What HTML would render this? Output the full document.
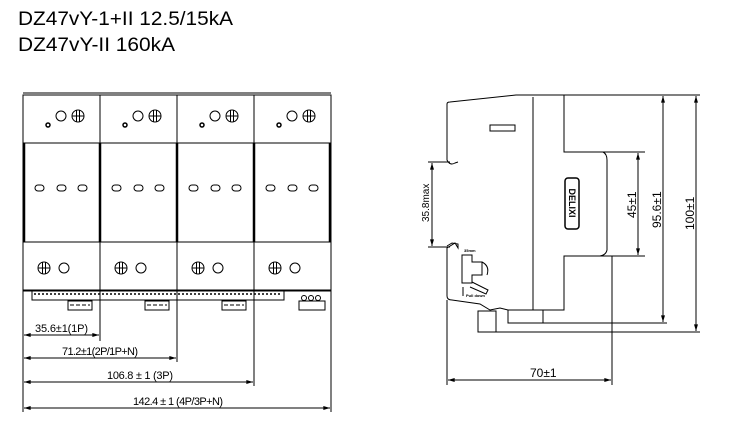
<!DOCTYPE html>
<html><head><meta charset="utf-8"><style>
html,body{margin:0;padding:0;background:#fff;}
svg{display:block;}
text{font-family:"Liberation Sans",sans-serif;}
</style></head><body>
<svg width="742" height="438" viewBox="0 0 742 438" xmlns="http://www.w3.org/2000/svg">
<defs>
<g id="mod" stroke="#000" fill="none" stroke-width="1">
  <circle cx="25" cy="33" r="2" stroke-width="1.5"/>
  <circle cx="38" cy="24" r="5"/>
  <circle cx="55" cy="24" r="6"/>
  <line x1="49" y1="24" x2="61" y2="24"/><line x1="53.5" y1="18" x2="53.5" y2="30"/><line x1="56.5" y1="18" x2="56.5" y2="30"/>
  <rect x="12" y="93" width="9" height="6" rx="3"/>
  <rect x="34" y="93" width="9" height="6" rx="3"/>
  <rect x="55" y="93" width="9" height="6" rx="3"/>
  <circle cx="21" cy="176" r="6"/>
  <line x1="15" y1="176" x2="27" y2="176"/><line x1="19.5" y1="170" x2="19.5" y2="182"/><line x1="22.5" y1="170" x2="22.5" y2="182"/>
  <circle cx="41" cy="176" r="5"/>
</g>
<marker id="a" viewBox="0 0 10 6" refX="10" refY="3" markerWidth="8" markerHeight="4" orient="auto-start-reverse"><path d="M0,0L10,3L0,6z" fill="#000"/></marker>
</defs>
<text x="18" y="25" font-size="19.5" textLength="215" lengthAdjust="spacingAndGlyphs">DZ47vY-1+II 12.5/15kA</text>
<text x="18" y="51" font-size="19.5" textLength="157" lengthAdjust="spacingAndGlyphs">DZ47vY-II 160kA</text>

<g stroke="#000" fill="none">
  <line x1="23" y1="93" x2="331" y2="93"/>
  <rect x="23" y="95" width="308" height="195"/>
  <line x1="23" y1="143" x2="331" y2="143"/>
  <line x1="23" y1="242" x2="331" y2="242"/>
  <line x1="100" y1="95" x2="100" y2="290"/><line x1="177" y1="95" x2="177" y2="290"/><line x1="254" y1="95" x2="254" y2="290"/>
  <g stroke-width="2.5"><line x1="24" y1="143" x2="24" y2="242"/><line x1="100" y1="143" x2="100" y2="242"/><line x1="177" y1="143" x2="177" y2="242"/><line x1="254" y1="143" x2="254" y2="242"/><line x1="330" y1="143" x2="330" y2="242"/></g>
  <line x1="23" y1="291" x2="331" y2="291"/>
  <polyline points="32,291 32,300 284,300 284,291"/>
  <line x1="34" y1="294" x2="282" y2="294" stroke-dasharray="2,2" stroke-width="1.5"/>
  <rect x="68" y="301" width="24" height="9"/><rect x="145" y="301" width="24" height="9"/><rect x="222" y="301" width="24" height="9"/><rect x="299" y="301" width="26" height="9"/>
  <line x1="70" y1="305" x2="90" y2="305" stroke-dasharray="4,2"/><line x1="147" y1="305" x2="167" y2="305" stroke-dasharray="4,2"/><line x1="224" y1="305" x2="244" y2="305" stroke-dasharray="4,2"/>
  <circle cx="304" cy="298" r="2.5"/><circle cx="311" cy="298" r="2.5"/><circle cx="318" cy="298" r="2.5"/>
  <line x1="23" y1="290" x2="23" y2="412"/>
  <line x1="100" y1="290" x2="100" y2="341"/><line x1="177" y1="290" x2="177" y2="362"/><line x1="254" y1="290" x2="254" y2="386"/><line x1="331" y1="290" x2="331" y2="412"/>
  <line x1="24" y1="335" x2="99" y2="335" marker-start="url(#a)" marker-end="url(#a)"/>
  <line x1="24" y1="358" x2="176" y2="358" marker-start="url(#a)" marker-end="url(#a)"/>
  <line x1="24" y1="382" x2="253" y2="382" marker-start="url(#a)" marker-end="url(#a)"/>
  <line x1="24" y1="408" x2="330" y2="408" marker-start="url(#a)" marker-end="url(#a)"/>
</g>
<use href="#mod" x="23" y="92"/><use href="#mod" x="100" y="92"/><use href="#mod" x="177" y="92"/><use href="#mod" x="254" y="92"/>
<g font-size="11">
<text x="35" y="332" textLength="53">35.6±1(1P)</text>
<text x="62" y="355" textLength="76">71.2±1(2P/1P+N)</text>
<text x="107" y="379" textLength="66">106.8 ± 1 (3P)</text>
<text x="133" y="405" textLength="90">142.4 ± 1 (4P/3P+N)</text>
</g>

<g stroke="#000" fill="none">
  <path d="M447,104 Q447,102 450,102 L516,95 L564,95 L564,152 L603,152 Q607,154 607,160 L607,250 Q606,255 600,256 L564,256 L564,310 L533,310 L508,310 L500,308 L490,310 L480,304 L452,300 Q447,300 447,296 L447,248 L455,243 L458,248 L458,244 L452,243 L447,246 M447,104 L447,160 Q450,166 455,163 L458,162"/>
  <line x1="533" y1="97" x2="533" y2="310"/>
  <rect x="490" y="125" width="25" height="6"/>
  <rect x="565" y="178" width="14" height="51" rx="3" stroke-width="1.5"/>
  <path d="M462,255 L472,255 L472,262 L482,262 L482,275 L472,275 L472,283 L462,283 Z" />
  <path d="M472,282 L488,290 L486,294 L470,287"/>
  <path d="M482,262 Q490,266 487,275"/>
  <line x1="463" y1="287" x2="463" y2="296"/>
  <rect x="478" y="311" width="18" height="21"/>
  <polyline points="508,310 508,323 667,323"/>
  <line x1="543" y1="310" x2="543" y2="323"/>
  <line x1="478" y1="332" x2="700" y2="332"/>
  <line x1="564" y1="152" x2="645" y2="152"/><line x1="564" y1="256" x2="645" y2="256"/>
  <line x1="517" y1="95" x2="700" y2="95"/>
  <line x1="428" y1="162" x2="450" y2="162"/><line x1="428" y1="247" x2="450" y2="247"/>
  <line x1="432" y1="163" x2="432" y2="246" marker-start="url(#a)" marker-end="url(#a)"/>
  <line x1="638" y1="153" x2="638" y2="255" marker-start="url(#a)" marker-end="url(#a)"/>
  <line x1="663" y1="96" x2="663" y2="322" marker-start="url(#a)" marker-end="url(#a)"/>
  <line x1="696" y1="96" x2="696" y2="331" marker-start="url(#a)" marker-end="url(#a)"/>
  <line x1="447" y1="300" x2="447" y2="385"/><line x1="612" y1="256" x2="612" y2="385"/>
  <line x1="448" y1="380" x2="611" y2="380" marker-start="url(#a)" marker-end="url(#a)"/>
</g>
<g font-size="11">
<text transform="translate(429,222) rotate(-90)" font-size="10">35.8max</text>
<text transform="translate(636,218) rotate(-90)" font-size="12">45±1</text>
<text transform="translate(661,228) rotate(-90)" font-size="12">95.6±1</text>
<text transform="translate(694,230) rotate(-90)" font-size="12">100±1</text>
<text x="530" y="377" font-size="12">70±1</text>
<text transform="translate(569,203) rotate(90)" font-size="9" font-weight="bold" text-anchor="middle">DELIXI</text>
<text x="464" y="252" font-size="4" font-weight="bold">35mm</text>
<text x="466" y="297" font-size="4" font-weight="bold">Pull down</text>
</g>
</svg>
</body></html>
